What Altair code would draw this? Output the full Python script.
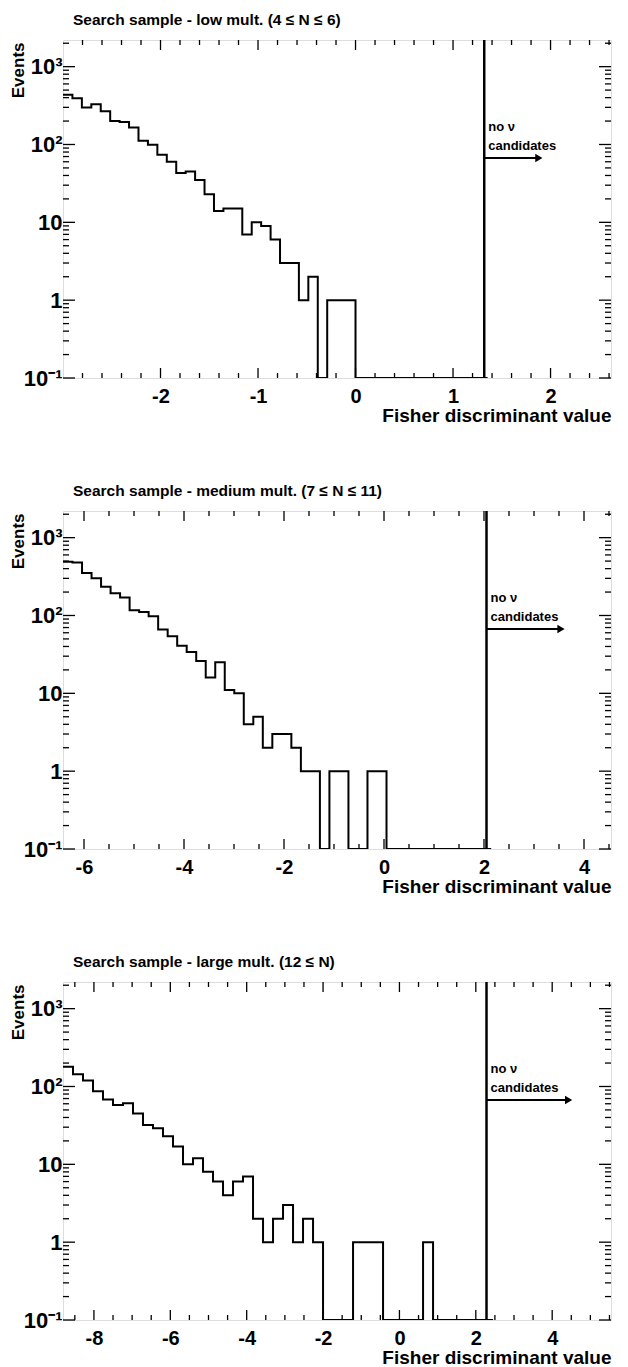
import altair as alt
import pandas as pd

# ---------------- data ----------------
YMIN = 0.1
YMAX = 2200

titles = [
    "Search sample - low mult. (4 \u2264 N \u2264 6)",
    "Search sample - medium mult. (7 \u2264 N \u2264 11)",
    "Search sample - large mult. (12 \u2264 N)",
]

low_counts = [434, 394, 298, 328, 268, 200, 194, 165, 112, 99, 74, 60, 43, 45, 35,
              23, 14, 15, 15, 7, 10, 9, 6, 3, 3, 1, 2, 0, 1, 1, 1,
              0, 0, 0, 0, 0, 0, 0, 0, 0, 0, 0, 0, 0, 0]
low_first_edge = -3.0
low_bin_width = 0.09677
low_cut = 1.32
low_xdomain = [-3.0, 2.62]
low_major = [-2, -1, 0, 1, 2]
low_minor = [-2.8, -2.6, -2.4, -2.2, -1.8, -1.6, -1.4, -1.2, -0.8, -0.6, -0.4, -0.2,
             0.2, 0.4, 0.6, 0.8, 1.2, 1.4, 1.6, 1.8, 2.2, 2.4, 2.6]
low_arrow_end = 1.88

med_counts = [492, 478, 351, 300, 234, 193, 170, 117, 111, 98, 66, 54, 41, 34, 26,
              16, 25, 11, 10, 4, 5, 2, 3, 3, 2, 1, 1, 0, 1, 1, 0, 0, 1, 1,
              0, 0, 0, 0, 0, 0, 0, 0, 0, 0, 0]
med_first_edge = -6.42
med_bin_width = 0.1903
med_cut = 2.05
med_xdomain = [-6.42, 4.54]
med_major = [-6, -4, -2, 0, 2, 4]
med_minor = [-5.5, -5, -4.5, -3.5, -3, -2.5, -1.5, -1, -0.5, 0.5, 1, 1.5,
             2.5, 3, 3.5, 4.5]
med_arrow_end = 3.54

large_counts = [179, 144, 119, 87, 68, 58, 61, 45, 32, 29, 23, 17, 10, 12, 8, 6, 4,
                6, 7, 2, 1, 2, 3, 1, 2, 1, 0, 0, 0, 1, 1, 1, 0, 0, 0, 0, 1,
                0, 0, 0, 0, 0, 0]
large_first_edge = -8.81
large_bin_width = 0.2619
large_cut = 2.28
large_xdomain = [-8.81, 5.54]
large_major = [-8, -6, -4, -2, 0, 2, 4]
large_minor = [-8.5, -7.5, -7, -6.5, -5.5, -5, -4.5, -3.5, -3, -2.5, -1.5, -1, -0.5,
               0.5, 1, 1.5, 2.5, 3, 3.5, 4.5, 5, 5.5]
large_arrow_end = 4.43

arrow_y = 67
label_no_y = 170
label_cand_y = 97

y_major = [0.1, 1, 10, 100, 1000]
y_minor = [0.2, 0.3, 0.4, 0.5, 0.6, 0.7, 0.8, 0.9,
           2, 3, 4, 5, 6, 7, 8, 9,
           20, 30, 40, 50, 60, 70, 80, 90,
           200, 300, 400, 500, 600, 700, 800, 900, 2000]

# ---------------- style ----------------
W = 548
H = 338
FONT = "Liberation Sans"
XMAJ, XMIN_T, YMAJ, YMIN_T = 10, 5, 12, 6


def panel(title, counts, x0, w, cut, xdom, major, minor, arrow_end):
    n = len(counts)
    edges = [x0 + i * w for i in range(n + 1)]
    vals = [max(c, YMIN) for c in counts] + [max(counts[-1], YMIN)]
    hist_df = pd.DataFrame({"x": edges, "y": vals})

    xs = alt.Scale(domain=xdom, nice=False, zero=False)
    ys = alt.Scale(type="log", domain=[YMIN, YMAX], nice=False)

    label_expr = ("datum.value >= 999 ? '10\u00b3' : datum.value >= 99 ? '10\u00b2' : "
                  "datum.value >= 9 ? '10' : datum.value >= 0.9 ? '1' : '10\u207b\u00b9'")

    xaxis = alt.Axis(
        values=major, title="Fisher discriminant value", titleAnchor="end",
        titleFontSize=19, titleFont=FONT, titleFontWeight="bold", titleColor="black",
        titlePadding=0, labelFontSize=20, labelFont=FONT, labelFontWeight="bold",
        labelColor="black", labelPadding=8, ticks=False, tickSize=0, domain=False,
        grid=False, labelFlush=False, format="d",
        labelExpr="replace(datum.label, '\u2212', '-')")
    yaxis = alt.Axis(
        values=y_major, labelExpr=label_expr, title="Events",
        titleFontSize=17, titleFont=FONT, titleFontWeight="bold", titleColor="black",
        titleAngle=270, titleAlign="right", titleBaseline="bottom",
        titleX=-36, titleY=2,
        labelFontSize=22, labelFont=FONT, labelFontWeight="bold",
        labelColor="black", labelPadding=1, ticks=False, tickSize=0, domain=False,
        grid=False)

    def X(field):
        return alt.X(field, scale=xs, axis=xaxis, title="Fisher discriminant value")

    def Y(field):
        return alt.Y(field, scale=ys, axis=yaxis, title="Events")

    hist = alt.Chart(hist_df).mark_line(
        interpolate="step-after", color="black", strokeWidth=2, clip=True
    ).encode(x=X("x:Q"), y=Y("y:Q"))

    maj_df = pd.DataFrame({"t": major})
    min_df = pd.DataFrame({"t": minor})
    tick_layers = []
    for df, ln in ((maj_df, XMAJ), (min_df, XMIN_T)):
        base = alt.Chart(df).mark_rule(color="black", strokeWidth=1.3)
        tick_layers.append(base.encode(x=X("t:Q"), y=alt.value(H), y2=alt.value(H - ln)))
        tick_layers.append(base.encode(x=X("t:Q"), y=alt.value(0), y2=alt.value(ln)))

    ymaj_df = pd.DataFrame({"v": y_major})
    ymin_df = pd.DataFrame({"v": y_minor})
    for df, ln in ((ymaj_df, YMAJ), (ymin_df, YMIN_T)):
        base = alt.Chart(df).mark_rule(color="black", strokeWidth=1.3)
        tick_layers.append(base.encode(y=Y("v:Q"), x=alt.value(0), x2=alt.value(ln)))
        tick_layers.append(base.encode(y=Y("v:Q"), x=alt.value(W - ln), x2=alt.value(W)))

    cut_df = pd.DataFrame({"c": [cut], "e": [arrow_end], "ay": [arrow_y],
                           "ny": [label_no_y], "cy": [label_cand_y]})
    cut_rule = alt.Chart(cut_df).mark_rule(color="black", strokeWidth=2.5).encode(
        x=X("c:Q"), y=alt.value(0), y2=alt.value(H))
    arrow = alt.Chart(cut_df).mark_rule(color="black", strokeWidth=2).encode(
        x=X("c:Q"), x2="e:Q", y=Y("ay:Q"))
    head = alt.Chart(cut_df).mark_point(
        shape="triangle-right", filled=True, color="black", size=70, opacity=1
    ).encode(x=X("e:Q"), y=Y("ay:Q"))
    txt_no = alt.Chart(cut_df).mark_text(
        text="no \u03bd", align="left", baseline="middle", dx=4, font=FONT,
        fontSize=13, fontWeight="bold", color="black"
    ).encode(x=X("c:Q"), y=Y("ny:Q"))
    txt_cand = alt.Chart(cut_df).mark_text(
        text="candidates", align="left", baseline="middle", dx=4, font=FONT,
        fontSize=13, fontWeight="bold", color="black"
    ).encode(x=X("c:Q"), y=Y("cy:Q"))

    return alt.layer(hist, *tick_layers, cut_rule, arrow, head, txt_no, txt_cand).properties(
        width=W, height=H,
        title=alt.TitleParams(text=title, anchor="start", frame="group", fontSize=15.5,
                              font=FONT, fontWeight="bold", color="black", offset=10,
                              dx=10),
    )


p1 = panel(titles[0], low_counts, low_first_edge, low_bin_width, low_cut, low_xdomain,
           low_major, low_minor, low_arrow_end)
p2 = panel(titles[1], med_counts, med_first_edge, med_bin_width, med_cut, med_xdomain,
           med_major, med_minor, med_arrow_end)
p3 = panel(titles[2], large_counts, large_first_edge, large_bin_width, large_cut,
           large_xdomain, large_major, large_minor, large_arrow_end)

chart = alt.vconcat(p1, p2, p3, spacing=57).resolve_scale(x="independent").properties(
    padding={"left": 0, "top": 4, "right": 0, "bottom": 0}
).configure_view(stroke="black", strokeWidth=2).configure(background="white")

chart.save("out.html", embed_options={"renderer": "svg", "actions": False})
